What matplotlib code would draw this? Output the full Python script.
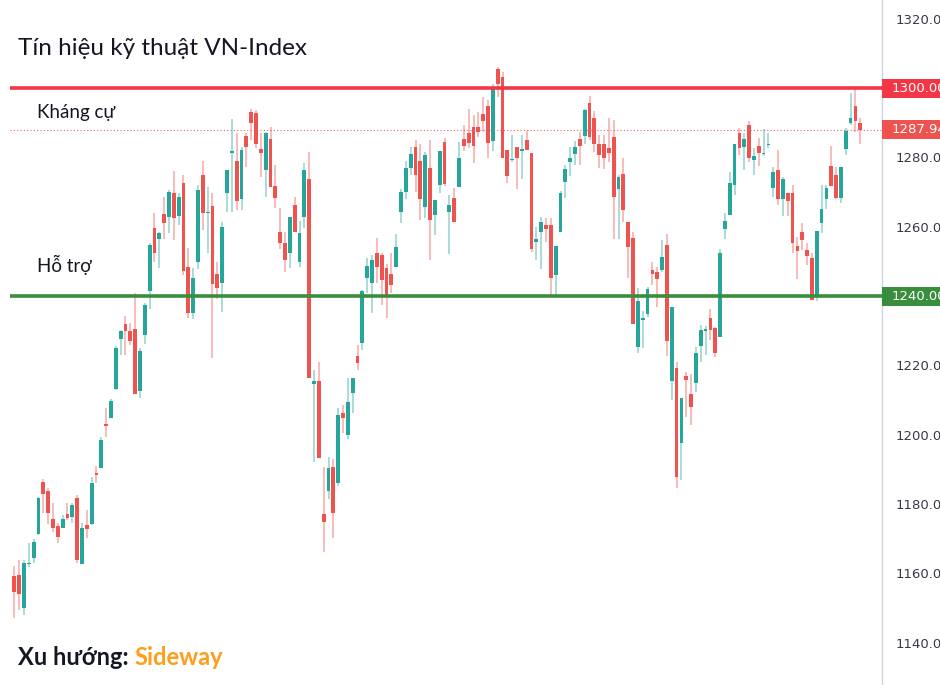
import matplotlib.pyplot as plt
import matplotlib.transforms as mtransforms
from matplotlib.patches import Rectangle
import numpy as np

# Daily VN-Index candles
opens = [1159.2, 1159.5, 1150.1, 1162.6, 1164.3, 1171.3, 1186.4, 1183.8, 1175.6, 1173.7,
         1173.2, 1177.1, 1176.2, 1181.6, 1162.7, 1174.0, 1174.1, 1189.0, 1190.5, 1203.1,
         1204.9, 1213.1, 1227.5, 1231.9, 1229.9, 1230.4, 1212.7, 1228.9, 1241.5, 1259.5,
         1256.6, 1263.8, 1262.7, 1269.8, 1263.1, 1272.5, 1248.3, 1235.2, 1249.9, 1275.0,
         1263.9, 1265.9, 1246.5, 1243.7, 1269.8, 1281.4, 1278.9, 1267.9, 1286.3, 1293.0,
         1292.7, 1282.4, 1276.3, 1285.3, 1271.7, 1258.4, 1255.2, 1252.3, 1266.2, 1249.7,
         1262.9, 1273.9, 1214.5, 1215.5, 1177.0, 1183.7, 1190.8, 1186.2, 1206.4, 1199.9,
         1211.9, 1222.7, 1226.6, 1245.1, 1243.7, 1252.5, 1251.8, 1248.0, 1246.3, 1248.5,
         1264.3, 1270.0, 1277.0, 1283.0, 1279.0, 1265.8, 1276.8, 1263.4, 1272.0, 1284.5,
         1264.3, 1268.4, 1271.4, 1285.3, 1286.9, 1288.9, 1288.9, 1292.5, 1294.9, 1284.8,
         1305.5, 1303.3, 1282.1, 1279.2, 1282.9, 1281.9, 1285.0, 1281.2, 1255.7, 1258.6,
         1260.5, 1260.5, 1246.1, 1258.6, 1273.0, 1278.6, 1280.9, 1285.3, 1286.3, 1295.6,
         1291.3, 1284.0, 1284.0, 1282.6, 1286.0, 1270.8, 1275.1, 1261.4, 1256.8, 1225.4,
         1233.2, 1234.7, 1247.5, 1247.0, 1247.5, 1254.7, 1215.5, 1219.1, 1197.5, 1216.9,
         1211.7, 1215.0, 1225.6, 1230.0, 1233.8, 1230.7, 1228.3, 1259.2, 1263.3, 1272.0,
         1287.1, 1282.9, 1289.3, 1279.2, 1283.3, 1281.0, 1283.5, 1271.1, 1276.3, 1267.9,
         1269.6, 1269.6, 1254.4, 1258.4, 1253.3, 1251.1, 1239.6, 1261.2, 1267.9, 1277.5,
         1274.9, 1268.2, 1282.3, 1290.0, 1294.8, 1290.0]
highs = [1162.0, 1163.8, 1163.8, 1168.7, 1169.8, 1182.1, 1187.1, 1184.5, 1180.4, 1174.4,
         1176.8, 1180.4, 1180.4, 1182.6, 1174.4, 1178.3, 1187.9, 1191.0, 1199.4, 1207.6,
         1210.2, 1225.6, 1230.2, 1234.2, 1232.1, 1240.8, 1224.9, 1237.9, 1255.2, 1264.1,
         1258.6, 1268.5, 1270.6, 1276.0, 1269.8, 1275.0, 1253.8, 1248.0, 1272.0, 1279.0,
         1271.5, 1269.8, 1249.7, 1261.4, 1276.5, 1291.1, 1286.9, 1283.1, 1286.9, 1293.9,
         1293.7, 1286.9, 1287.2, 1288.8, 1277.8, 1265.3, 1258.6, 1262.9, 1268.7, 1261.7,
         1278.3, 1281.6, 1218.8, 1221.0, 1190.8, 1193.7, 1192.9, 1207.6, 1208.6, 1216.5,
         1216.5, 1225.9, 1241.7, 1250.9, 1251.8, 1256.8, 1252.5, 1249.2, 1252.3, 1257.8,
         1271.0, 1279.0, 1283.0, 1285.0, 1284.0, 1281.5, 1285.0, 1267.7, 1281.8, 1285.5,
         1269.1, 1271.1, 1284.5, 1289.3, 1293.9, 1292.2, 1293.0, 1297.5, 1296.5, 1301.3,
         1306.0, 1304.7, 1282.1, 1286.4, 1282.9, 1286.4, 1287.7, 1281.2, 1260.0, 1262.7,
         1262.6, 1262.6, 1254.5, 1270.3, 1277.8, 1283.1, 1284.7, 1287.4, 1294.1, 1297.8,
         1293.4, 1286.4, 1286.4, 1291.3, 1290.8, 1274.9, 1279.9, 1261.4, 1258.6, 1242.2,
         1235.7, 1242.7, 1249.9, 1248.4, 1256.2, 1257.9, 1236.7, 1221.1, 1210.5, 1218.2,
         1217.4, 1225.4, 1231.6, 1231.3, 1236.4, 1231.2, 1253.5, 1264.0, 1275.9, 1284.0,
         1288.4, 1287.1, 1290.6, 1282.6, 1285.6, 1288.1, 1287.1, 1277.3, 1282.1, 1274.4,
         1269.8, 1272.0, 1256.9, 1261.0, 1255.2, 1252.5, 1258.8, 1271.9, 1272.0, 1283.3,
         1277.1, 1277.1, 1288.4, 1298.7, 1299.9, 1291.5]
lows = [1147.0, 1149.4, 1148.0, 1161.9, 1163.1, 1171.0, 1177.3, 1174.2, 1172.0, 1168.7,
        1173.2, 1175.4, 1174.4, 1163.1, 1162.7, 1170.1, 1174.0, 1186.0, 1190.3, 1199.2,
        1204.7, 1212.9, 1223.0, 1223.0, 1225.9, 1211.7, 1210.5, 1226.3, 1236.4, 1249.9,
        1248.0, 1256.6, 1258.1, 1256.3, 1260.5, 1246.0, 1233.6, 1233.3, 1247.7, 1259.0,
        1252.5, 1222.0, 1239.1, 1235.5, 1264.3, 1264.3, 1264.8, 1264.8, 1277.3, 1285.0,
        1282.6, 1274.4, 1268.7, 1271.5, 1265.3, 1253.7, 1247.0, 1248.0, 1258.4, 1248.5,
        1259.5, 1216.5, 1192.2, 1193.2, 1166.3, 1181.4, 1170.1, 1185.2, 1200.4, 1198.7,
        1206.4, 1218.7, 1224.4, 1240.8, 1235.0, 1243.7, 1237.4, 1233.6, 1241.0, 1248.5,
        1261.1, 1268.0, 1275.0, 1270.0, 1262.0, 1262.5, 1250.4, 1257.6, 1269.6, 1271.7,
        1252.0, 1261.4, 1271.4, 1281.9, 1282.6, 1278.5, 1286.0, 1287.4, 1279.7, 1281.9,
        1297.5, 1279.7, 1272.7, 1278.7, 1270.8, 1273.7, 1282.1, 1252.8, 1250.4, 1247.8,
        1255.7, 1240.3, 1240.1, 1258.6, 1268.2, 1274.7, 1277.8, 1277.8, 1283.8, 1285.0,
        1281.6, 1277.0, 1276.6, 1278.8, 1256.6, 1256.4, 1261.4, 1245.1, 1231.8, 1223.5,
        1225.0, 1234.0, 1243.2, 1236.9, 1247.0, 1222.7, 1210.0, 1184.5, 1186.9, 1205.2,
        1202.8, 1212.4, 1221.1, 1223.0, 1227.3, 1222.3, 1228.3, 1256.6, 1263.3, 1269.1,
        1280.7, 1276.5, 1278.7, 1274.9, 1277.5, 1280.4, 1282.6, 1268.5, 1266.2, 1263.1,
        1263.1, 1252.3, 1244.8, 1253.3, 1248.9, 1239.0, 1238.7, 1258.1, 1265.0, 1271.7,
        1267.9, 1266.9, 1280.7, 1289.3, 1287.4, 1283.8]
closes = [1154.7, 1154.0, 1163.1, 1163.0, 1169.1, 1181.6, 1182.9, 1177.5, 1173.0, 1170.4,
          1175.6, 1175.9, 1179.7, 1164.0, 1173.0, 1172.7, 1186.2, 1188.3, 1198.5, 1202.4,
          1209.8, 1224.9, 1229.9, 1229.9, 1227.1, 1211.7, 1224.2, 1237.4, 1254.6, 1252.5,
          1258.3, 1261.1, 1269.9, 1262.4, 1268.5, 1247.3, 1235.2, 1245.1, 1270.6, 1264.0,
          1264.2, 1243.4, 1242.4, 1260.0, 1276.3, 1281.8, 1267.5, 1282.1, 1282.9, 1290.0,
          1284.0, 1281.4, 1286.9, 1271.5, 1268.2, 1255.2, 1250.4, 1262.9, 1258.4, 1258.1,
          1276.5, 1216.5, 1215.5, 1193.2, 1174.9, 1190.3, 1177.3, 1205.7, 1204.9, 1209.5,
          1216.5, 1220.8, 1241.4, 1248.7, 1250.4, 1248.5, 1244.6, 1240.0, 1243.2, 1254.2,
          1270.0, 1277.0, 1281.0, 1275.0, 1268.0, 1280.7, 1261.9, 1267.7, 1281.8, 1272.3,
          1266.4, 1261.4, 1279.9, 1283.4, 1284.2, 1283.3, 1287.4, 1290.6, 1284.2, 1300.1,
          1301.2, 1279.7, 1274.6, 1279.6, 1279.7, 1282.3, 1282.1, 1253.7, 1256.6, 1261.3,
          1259.2, 1245.3, 1254.5, 1269.8, 1276.6, 1279.9, 1283.1, 1283.4, 1293.7, 1286.0,
          1283.8, 1280.7, 1279.9, 1281.2, 1268.5, 1274.4, 1264.8, 1254.2, 1231.8, 1238.6,
          1233.7, 1242.0, 1246.5, 1244.8, 1251.3, 1227.0, 1236.7, 1187.9, 1210.5, 1215.7,
          1208.1, 1223.6, 1230.2, 1230.4, 1230.2, 1223.5, 1252.3, 1261.6, 1272.5, 1284.0,
          1282.6, 1285.2, 1279.7, 1280.4, 1281.3, 1281.4, 1283.9, 1275.7, 1267.9, 1273.7,
          1267.5, 1255.2, 1253.1, 1256.1, 1251.5, 1239.0, 1258.8, 1265.0, 1271.3, 1271.7,
          1268.2, 1277.1, 1287.7, 1291.3, 1290.6, 1287.94]

resistance = 1300.0
support = 1240.0
last_price = closes[-1]
y_ticks = [1140, 1160, 1180, 1200, 1220, 1240, 1260, 1280, 1300, 1320]

title = 'Tín hiệu kỹ thuật VN-Index'
resistance_label = 'Kháng cự'
support_label = 'Hỗ trợ'
trend_label = 'Xu hướng: '
trend_value = 'Sideway'

up_color = '#26a69a'
down_color = '#ef5350'

fig = plt.figure(figsize=(9.4, 6.85), dpi=100)
ax = fig.add_axes([0, 0, 882 / 940, 1])

o = np.array(opens)
h = np.array(highs)
l = np.array(lows)
c = np.array(closes)
x = np.arange(len(o))
colors = np.where(c >= o, up_color, down_color)

# wicks (lighter) then bodies
ax.vlines(x, l, h, colors=colors, linewidth=1.1, alpha=0.5, zorder=2)
body_bottom = np.minimum(o, c)
body_height = np.maximum(np.abs(c - o), 0.35)
ax.bar(x, body_height, bottom=body_bottom, width=0.78, color=colors, linewidth=0, zorder=3)

# support / resistance
x_left = -0.9
x_right = 179.5
ax.hlines(resistance, x_left, x_right, color='#f23645', linewidth=2.6, zorder=4)
ax.hlines(support, x_left, x_right, color='#388e3c', linewidth=2.6, zorder=4)
ax.hlines(last_price, x_left, x_right, color='#f23645', linewidth=0.8,
          linestyles=(0, (1, 2)), alpha=0.8, zorder=1)

ax.set_xlim(-2.96, x_right)
ax.set_ylim(1127.8, 1325.4)

for s in ['left', 'top', 'bottom']:
    ax.spines[s].set_visible(False)
ax.spines['right'].set_color('#d1d4dc')
ax.spines['right'].set_linewidth(1)
ax.set_xticks([])
ax.yaxis.tick_right()
ax.set_yticks(y_ticks)
# 1300 and 1240 are shown in the coloured boxes instead
ax.set_yticklabels(['' if v in (resistance, support) else f'{v:.2f}' for v in y_ticks])
ax.tick_params(axis='y', length=0, pad=10, labelsize=9.5, labelcolor='#363a45')

# price label boxes on the axis
trans = mtransforms.blended_transform_factory(ax.transAxes, ax.transData)
for val, col in [(resistance, '#f23645'), (last_price, '#ef5350'), (support, '#388e3c')]:
    box_h = 19 / 3.4667
    ax.add_patch(Rectangle((1.0, val - box_h / 2), 0.1, box_h, transform=trans,
                           facecolor=col, edgecolor='none', clip_on=False, zorder=10))
    ax.text(892 / 882, val, f'{val:.2f}', transform=trans, color='white', fontsize=9.5,
            va='center', ha='left', clip_on=False, zorder=11)

# texts
fig.text(18 / 940, 1 - 55 / 685, title, fontsize=17.5, family='Lato', color='#131722',
         va='baseline', ha='left')
fig.text(37 / 940, 1 - 118 / 685, resistance_label, fontsize=13.5, family='Lato',
         color='#131722', va='baseline', ha='left')
fig.text(37 / 940, 1 - 272 / 685, support_label, fontsize=13.5, family='Lato',
         color='#131722', va='baseline', ha='left')
t = fig.text(18 / 940, 1 - 665 / 685, trend_label, fontsize=17, family='Lato',
             weight='bold', color='#131722', va='baseline', ha='left')
fig.canvas.draw()
bb = t.get_window_extent()
fig.text(bb.x1 / 940, 1 - 665 / 685, trend_value, fontsize=17, family='Lato',
         weight='bold', color='#ff9d1c', va='baseline', ha='left')

plt.savefig('out.png', dpi=100)
